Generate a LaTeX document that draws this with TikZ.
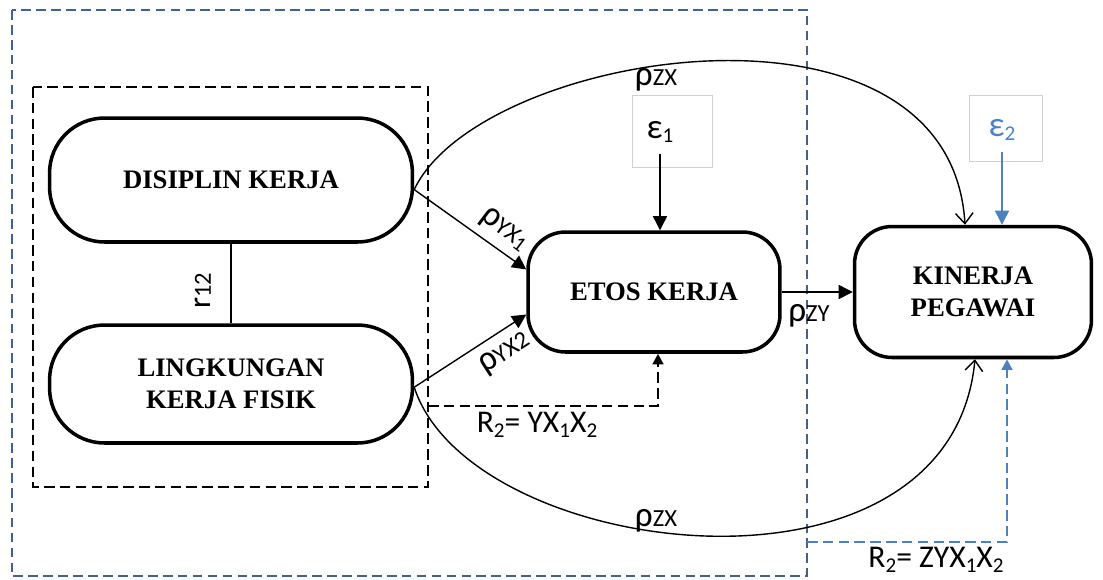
\documentclass[tikz,border=0pt]{standalone}
\usepackage{fontspec}
\setmainfont{Liberation Serif}
\newfontfamily\lblfont{Carlito}
\usetikzlibrary{positioning, shapes, arrows, arrows.meta}
\definecolor{frameblue}{RGB}{65,98,143}
\definecolor{lineblue}{RGB}{79,129,189}
\newcommand{\low}[1]{\raisebox{-0.3ex}{\fontsize{12}{12}\selectfont #1}}
\newcommand{\coef}[1]{{\fontsize{20}{20}\selectfont ρ}{\fontsize{14}{14}\selectfont #1}}

\begin{document}
\begin{tikzpicture}[x=0.02cm, y=-0.02cm]
\tikzstyle{every node}=[font=\lblfont\fontsize{18}{18}\selectfont, inner sep=0pt];
\tikzstyle{var}=[draw, line width=2pt, rounded corners=1.1cm, minimum width=7.26cm, align=center, font=\bfseries\fontsize{15.2}{18}\selectfont];
\tikzstyle{dep}=[var, rounded corners=0.75cm];
\tikzstyle{errbox}=[draw=black!18, line width=0.5pt];
\tikzstyle{arr}=[-{Triangle[length=8pt,width=8pt]}, line width=0.8pt];
\tikzstyle{curvearr}=[-{Straight Barb[length=6pt,width=10pt]}, line width=0.8pt];
\tikzstyle{dasharr}=[-{Triangle[length=6pt,width=6pt]}, line width=1.5pt, dash pattern=on 6pt off 3pt];
\useasboundingbox (0,0) rectangle (1103,579);
\draw [frameblue, line width=1.1pt, dash pattern=on 5.5pt off 3pt] (12,10) rectangle (807,576);
\draw [line width=1.6pt, dash pattern=on 6pt off 3pt] (33,87) rectangle (428,487);
\coordinate (g1) at (428,406);
\coordinate (g2) at (807,542);
\path (231,180) node[var, minimum height=2.48cm] (x1) {DISIPLIN KERJA};
\path (231,384) node[var, minimum height=2.36cm] (x2) {LINGKUNGAN\\KERJA FISIK};
\path (654,292) node[dep, minimum width=5.04cm, minimum height=2.4cm] (y) {ETOS KERJA};
\path (973,292) node[dep, minimum width=4.74cm, minimum height=2.62cm] (z) {KINERJA\\PEGAWAI};
\path (672,131) node[errbox, minimum width=1.6cm, minimum height=1.44cm] (b1) {};
\path (1006,128) node[errbox, minimum width=1.46cm, minimum height=1.32cm] (b2) {};
\path (660,132) node (e1) {{\fontsize{20}{20}\selectfont ε}\low{1}};
\path (1002,130) node[lineblue] (e2) {{\fontsize{20}{20}\selectfont ε}\low{2}};
\path (656,80) node (pzx1) {\coef{ZX}};
\path (656,521) node (pzx2) {\coef{ZX}};
\path (504,230) node[rotate=-37] (pyx1) {\coef{YX\low{1}}};
\path (505,354) node[rotate=33] (pyx2) {\coef{YX2}};
\path (809,316) node (pzy) {\coef{ZY}};
\path (203,291) node[rotate=90] (r12) {{\fontsize{18}{18}\selectfont r}{\fontsize{14}{14}\selectfont 12}};
\path (537,425) node (rsq1) {R\low{2}= YX\low{1}X\low{2}};
\path (936,560) node (rsq2) {R\low{2}= ZYX\low{1}X\low{2}};
\draw [line width=0.8pt] (x1.south) -- (x2.north);
\draw [curvearr] (x1.-3) .. controls (480,50) and (950,-25) .. ([xshift=-0.16cm]z.north);
\draw [curvearr] (x2.-1) .. controls (470,560) and (950,620) .. ([xshift=0.04cm]z.south);
\draw [arr] (x1.-3) -- (y.170);
\draw [arr] (x2.-1) -- (y.190);
\draw [arr] (y.east) -- (z.west);
\draw [arr, shorten <=6pt] (e1.south) -- (e1.south |- y.north);
\draw [arr, lineblue, shorten <=6pt] (e2.south) -- (e2.south |- z.north);
\draw [dasharr] (g1) -| ([xshift=0.08cm]y.south);
\draw [dasharr, lineblue] (g2) -| ([xshift=0.68cm]z.south);
\end{tikzpicture}
\end{document}
